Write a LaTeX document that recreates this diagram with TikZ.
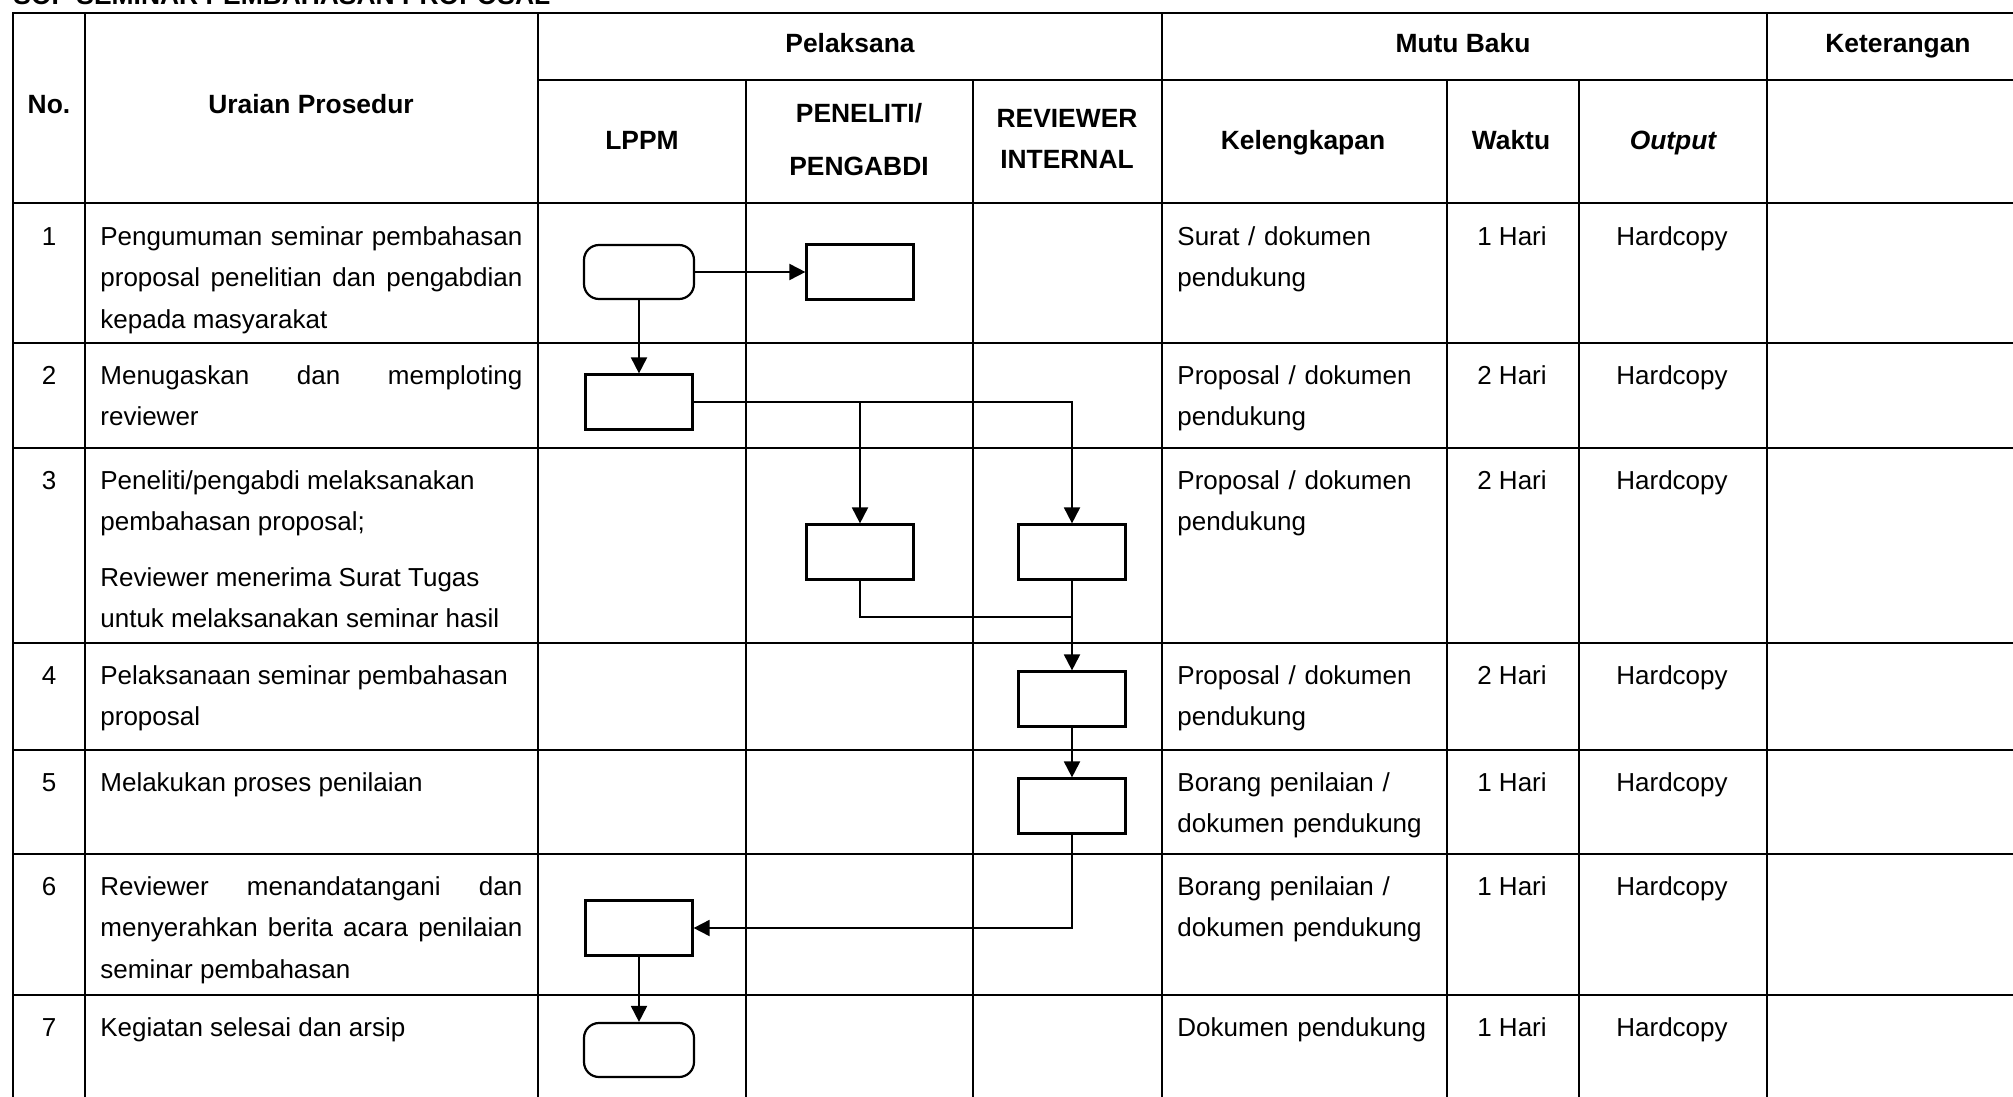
\documentclass[tikz,border=0pt]{standalone}
\usepackage{fontspec}
\setmainfont{Liberation Sans}
\usepackage{tikz}
\usetikzlibrary{arrows.meta, positioning}

\begin{document}
\begin{tikzpicture}[x=0.5pt, y=-0.5pt,
  grid/.style={line width=1.35pt, line cap=rect},
  hd/.style={font=\fontsize{13.2}{20.75}\selectfont\bfseries, anchor=base, inner sep=0pt},
  txt/.style={font=\fontsize{13}{20.75}\selectfont, anchor=base, inner sep=0pt},
  uraian/.style={txt, anchor=base west, text width=211pt, align=justify},
  kel/.style={txt, anchor=base west, text width=125pt, align=left},
  proc/.style={draw, line width=1.1pt, minimum width=53.5pt, minimum height=27.5pt, inner sep=0pt},
  term/.style={proc, rounded corners=7.5pt, minimum width=55pt, minimum height=27pt},
  link/.style={line width=0.95pt},
  flow/.style={link, -{Triangle[length=8pt, width=8pt]}}]
\useasboundingbox (0,0) rectangle (2013,1097);
\node[hd, anchor=base west] (judul) at (13,5) {SOP SEMINAR PEMBAHASAN PROPOSAL};
\draw[grid] (13,13) -- (2030,13);
\draw[grid] (538,80) -- (2030,80);
\draw[grid] (13,203) -- (2030,203);
\draw[grid] (13,343) -- (2030,343);
\draw[grid] (13,448) -- (2030,448);
\draw[grid] (13,643) -- (2030,643);
\draw[grid] (13,750) -- (2030,750);
\draw[grid] (13,854) -- (2030,854);
\draw[grid] (13,995) -- (2030,995);
\draw[grid] (13,13) -- (13,1110);
\draw[grid] (85,13) -- (85,1110);
\draw[grid] (538,13) -- (538,1110);
\draw[grid] (746,80) -- (746,1110);
\draw[grid] (973,80) -- (973,1110);
\draw[grid] (1162,13) -- (1162,1110);
\draw[grid] (1447,80) -- (1447,1110);
\draw[grid] (1579,80) -- (1579,1110);
\draw[grid] (1767,13) -- (1767,1110);
\node[hd] (hNo) at (49,114) {No.};
\node[hd] (hUraian) at (311,114) {Uraian Prosedur};
\node[hd] (hPelaksana) at (850,53) {Pelaksana};
\node[hd] (hMutu) at (1463,53) {Mutu Baku};
\node[hd] (hKet) at (1898,53) {Keterangan};
\node[hd] (hLppm) at (642,149) {LPPM};
\node[hd, align=center] (hPeneliti) at (859,176) {PENELITI/\\[6pt]PENGABDI};
\node[hd, align=center] (hReviewer) at (1067,169) {REVIEWER\\INTERNAL};
\node[hd] (hKel) at (1303,149) {Kelengkapan};
\node[hd] (hWaktu) at (1511,149) {Waktu};
\node[hd] (hOutput) at (1673,149) {\itshape Output};
\node[txt] (no1) at (49,245) {1};
\node[txt] (no2) at (49,384) {2};
\node[txt] (no3) at (49,489) {3};
\node[txt] (no4) at (49,684) {4};
\node[txt] (no5) at (49,791) {5};
\node[txt] (no6) at (49,895) {6};
\node[txt] (no7) at (49,1036) {7};
\node[uraian] (ur1) at (100,245) {Pengumuman seminar pembahasan\linebreak proposal penelitian dan pengabdian\linebreak kepada masyarakat};
\node[uraian] (ur2) at (100,384) {Menugaskan dan memploting\linebreak reviewer};
\node[uraian] (ur3) at (100,489) {Peneliti/pengabdi melaksanakan\\ pembahasan proposal;\\[7pt] Reviewer menerima Surat Tugas\\ untuk melaksanakan seminar hasil};
\node[uraian] (ur4) at (100,684) {Pelaksanaan seminar pembahasan\\ proposal};
\node[uraian] (ur5) at (100,791) {Melakukan proses penilaian};
\node[uraian] (ur6) at (100,895) {Reviewer menandatangani dan\linebreak menyerahkan berita acara penilaian\linebreak seminar pembahasan};
\node[uraian] (ur7) at (100,1036) {Kegiatan selesai dan arsip};
\node[kel] (kel1) at (1177,245) {Surat / dokumen\\pendukung};
\node[kel] (kel2) at (1177,384) {Proposal / dokumen\\pendukung};
\node[kel] (kel3) at (1177,489) {Proposal / dokumen\\pendukung};
\node[kel] (kel4) at (1177,684) {Proposal / dokumen\\pendukung};
\node[kel] (kel5) at (1177,791) {Borang penilaian /\\dokumen pendukung};
\node[kel] (kel6) at (1177,895) {Borang penilaian /\\dokumen pendukung};
\node[kel] (kel7) at (1177,1036) {Dokumen pendukung};
\node[txt] (wkt1) at (1512,245) {1 Hari};
\node[txt] (wkt2) at (1512,384) {2 Hari};
\node[txt] (wkt3) at (1512,489) {2 Hari};
\node[txt] (wkt4) at (1512,684) {2 Hari};
\node[txt] (wkt5) at (1512,791) {1 Hari};
\node[txt] (wkt6) at (1512,895) {1 Hari};
\node[txt] (wkt7) at (1512,1036) {1 Hari};
\node[txt] (out1) at (1672,245) {Hardcopy};
\node[txt] (out2) at (1672,384) {Hardcopy};
\node[txt] (out3) at (1672,489) {Hardcopy};
\node[txt] (out4) at (1672,684) {Hardcopy};
\node[txt] (out5) at (1672,791) {Hardcopy};
\node[txt] (out6) at (1672,895) {Hardcopy};
\node[txt] (out7) at (1672,1036) {Hardcopy};
\node[term] (mulai) at (639,272) {};
\node[proc] (umumkan) at (860,272) {};
\node[proc] (tugaskan) at (639,402) {};
\node[proc] (bahas) at (860,552) {};
\node[proc] (terima) at (1072,552) {};
\node[proc] (seminar) at (1072,699) {};
\node[proc] (nilai) at (1072,806) {};
\node[proc] (berita) at (639,928) {};
\node[term] (selesai) at (639,1050) {};
\coordinate (gabung) at (1072,617);
\draw[flow] (mulai) -- (umumkan);
\draw[flow] (mulai) -- (tugaskan);
\draw[flow] (tugaskan.east) -| (terima.north);
\draw[flow] (tugaskan.east -| bahas.north) -- (bahas.north);
\draw[link] (bahas.south) |- (gabung);
\draw[flow] (terima) -- (seminar);
\draw[flow] (seminar) -- (nilai);
\draw[flow] (nilai.south) |- (berita.east);
\draw[flow] (berita) -- (selesai);
\end{tikzpicture}
\end{document}
